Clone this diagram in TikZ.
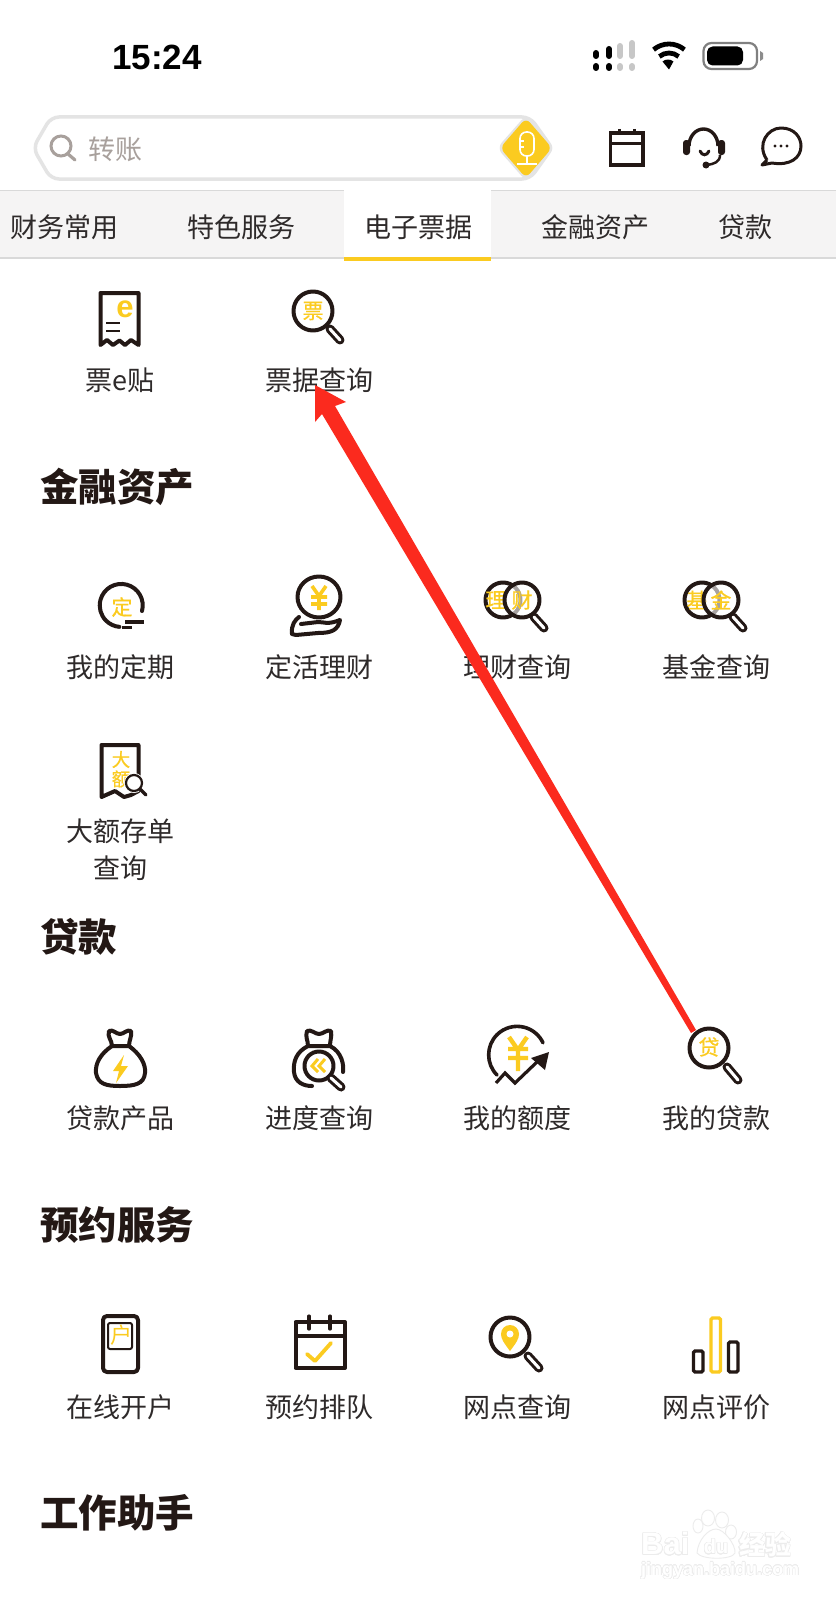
\documentclass[tikz,border=0pt]{standalone}
\usepackage{fontspec}
\usepackage[copies]{contour}
\newfontfamily\cjk{Noto Sans CJK SC}
\newfontfamily\cjkm[FakeBold=0.7]{Noto Sans CJK SC}
\newfontfamily\latn{Liberation Sans}
\definecolor{ink}{HTML}{231815}
\definecolor{lab}{HTML}{2E2A2A}
\definecolor{yel}{HTML}{FBCB20}
\definecolor{redarrow}{HTML}{FB2A1E}
\definecolor{edge}{HTML}{E4E4E4}
\definecolor{tabbg}{HTML}{F5F4F4}
\definecolor{wm}{HTML}{ECECEC}
\definecolor{hint}{HTML}{A8A09C}
\tikzset{
  x=1pt,y=-1pt,
  lbl/.style={inner sep=0pt,text=lab,font=\cjk\fontsize{27}{30}\selectfont},
  tabtxt/.style={inner sep=0pt,text=lab,font=\cjk\fontsize{27}{30}\selectfont},
  head/.style={inner sep=0pt,anchor=west,text=ink,font=\cjk\bfseries\fontsize{38.5}{42}\selectfont},
  gly/.style={inner sep=0pt,text=yel,font=\cjkm\fontsize{#1}{#1}\selectfont},
  gly/.default=21,
  icon/.style={draw=ink,line width=4pt,line join=round,line cap=round},
  yl/.style={draw=yel,line width=3.8pt,line cap=round,line join=round},
  handle/.style={draw=ink,line width=9pt,line cap=round},
  handlein/.style={draw=white,line width=3pt,line cap=round},
}
\newcommand{\magn}[6]{%
  \draw[icon] (#1,#2) circle (#3);
  \draw[handle] (#4,#5) -- ++(#6);
  \draw[handlein] (#4,#5) -- ++(#6);
}
\begin{document}
\begin{tikzpicture}
\useasboundingbox (0,0) rectangle (836,1600);
\fill[white] (0,0) rectangle (836,1600);

% status bar
\node[inner sep=0pt,text=black,font=\latn\bfseries\fontsize{35}{36}\selectfont] (clock) at (157,57) {15:24};
\foreach \cx/\t/\c in {596/53/black,609/49/black,620/46/black!22,632/43/black!22}{
  \draw[\c,line width=6pt,line cap=round] (\cx,\t) -- (\cx,56);
  \draw[\c,line width=6pt,line cap=round] (\cx,66) -- (\cx,68);
}
\draw[black,line width=4.8pt] (669,68) ++(230:24) arc (230:310:24);
\draw[black,line width=4.8pt] (669,68) ++(230:15) arc (230:310:15);
\fill[black] (669,69.5) -- (662.5,61.5) arc (230:310:8.5) -- cycle;
\draw[black!50,line width=2.2pt,rounded corners=8pt] (703.5,43) rectangle (757,69);
\fill[black,rounded corners=5.5pt] (707,46.5) rectangle (743,65.5);
\fill[black!45] (760,51) -- (763,53) -- (763,59) -- (760,61) -- cycle;

% search bar
\draw[edge,line width=3.5pt,fill=white,rounded corners=8pt]
  (33,148) -- (51,117) -- (530,117) -- (552,148) -- (530,179) -- (51,179) -- cycle;
\fill[edge,rounded corners=7pt] (526,115) -- (555,148) -- (526,181) -- (497,148) -- cycle;
\fill[yel,rounded corners=6pt] (526,118) -- (552,148) -- (526,178) -- (500,148) -- cycle;
\draw[white,line width=1.6pt,rounded corners=6.5pt] (520,132) rectangle (534,156);
\draw[white,line width=1.4pt] (519,141) -- (524,141) (519,147) -- (524,147);
\draw[white,line width=1.6pt] (527,156) -- (527,164) (517,164) -- (537,164);
\draw[hint,line width=3pt] (61,146) circle (10);
\draw[hint,line width=3.2pt,line cap=round] (68,154) -- (75,160);
\node[inner sep=0pt,text=hint,font=\cjk\fontsize{27}{30}\selectfont] (srch) at (115,149) {转账};

% top right icons
\draw[ink,line width=3.6pt] (610.5,133) rectangle (643,165);
\draw[ink,line width=3.2pt] (610.5,143.5) -- (643,143.5);
\draw[ink,line width=3pt] (619,129) -- (619,135) (634,129) -- (634,135);
\draw[ink,line width=3.4pt] (689,146) arc (180:360:14.5 and 17);
\fill[ink,rounded corners=3pt] (683,140) rectangle (690,155);
\fill[ink,rounded corners=3pt] (718,140) rectangle (725,155);
\draw[ink,line width=3pt,line cap=round] (700,151) .. controls (702,156) and (707,156) .. (709,151);
\draw[ink,line width=2.5pt] (720,155) .. controls (720,162) and (714,164) .. (707,165);
\fill[ink] (706,165) circle (3.5);
\draw[ink,line width=3pt,line join=round] (767,160)
  .. controls (756,144) and (768,128) .. (781,128)
  .. controls (795,128) and (801,138) .. (801,146)
  .. controls (801,158) and (790,166) .. (772,163) -- (762,165) -- (767,160);
\fill[ink] (775,146) circle (1.6) (781,146) circle (1.6) (787,146) circle (1.6);

% tabs
\fill[tabbg] (0,191) rectangle (836,258);
\draw[black!15,line width=1.2pt] (0,190.5) -- (836,190.5);
\draw[black!15,line width=2pt] (0,258) -- (836,258);
\fill[white] (344,190) rectangle (491,258);
\fill[yel] (344,257) rectangle (491,260.5);
\node[tabtxt] (t1) at (64,227) {财务常用};
\node[tabtxt] (t2) at (241,227) {特色服务};
\node[tabtxt] (t3) at (418.5,227) {电子票据};
\node[tabtxt] (t4) at (595,227) {金融资产};
\node[tabtxt] (t5) at (745,227) {贷款};

% row 1
\draw[icon] (100.5,293) -- (138.5,293) -- (138.5,345) -- (131,340) -- (125,345) -- (119.5,340.5) -- (113,345) -- (107,340) -- (100.5,345) -- cycle;
\node[inner sep=0pt,text=yel,font=\latn\bfseries\fontsize{31}{31}\selectfont] (ee) at (125,309) {e};
\draw[ink,line width=1.6pt] (106,323) -- (120,323) (106,331) -- (120,331);
\node[lbl] (l1) at (120,380) {票e贴};
\magn{313}{311}{19.5}{330}{329}{10,11}
\node[gly=21] (gp) at (313,311) {票};
\node[lbl] (l2) at (319,380) {票据查询};

% 金融资产
\node[head] (h1) at (40,487) {金融资产};
\draw[icon] (142,611) arc (15:-265:21.5);
\draw[ink,line width=3.6pt] (125,622) -- (144,622) (122,627.5) -- (132,627.5);
\node[gly=21] (g1) at (122,607) {定};
\node[lbl] (l3) at (120,667) {我的定期};
\draw[icon] (319,597) ellipse (21.5 and 20.5);
\draw[yel,line width=3.6pt,line cap=butt] (312,586) -- (319,596) -- (326,586) (319,596) -- (319,610) (311,597) -- (327,597) (311,604) -- (327,604);
\draw[icon] (292,634) .. controls (291,625) and (295,620) .. (299,617) (301,624) -- (318,622) .. controls (325,622) and (327,625) .. (340,620) .. controls (338,630) and (332,633) .. (318,633) -- (296,635) -- (292,634);
\node[lbl] (l4) at (319,667) {定活理财};
\draw[icon] (503,600) circle (17.5);
\node[gly=21] (g2) at (496,600) {理};
\draw[handle] (534,617) -- ++(10,11);
\draw[handlein] (534,617) -- ++(10,11);
\draw[icon,fill=white,fill opacity=0.6] (522,600) circle (17.5);
\node[gly=21] (g3) at (522,600) {财};
\node[lbl] (l5) at (517,667) {理财查询};
\draw[icon] (702,600) circle (17.5);
\node[gly=21] (g4) at (697,600) {基};
\draw[handle] (733,617) -- ++(10,11);
\draw[handlein] (733,617) -- ++(10,11);
\draw[icon,fill=white,fill opacity=0.6] (721,600) circle (17.5);
\node[gly=21] (g5) at (721,600) {金};
\node[lbl] (l6) at (716,667) {基金查询};

\draw[icon] (101.5,745) -- (138.5,745) -- (138.5,791) -- (131,795) -- (124,797) -- (115,791) -- (101.5,797) -- cycle;
\node[gly=18.5] (g6) at (121,759.5) {大};
\node[gly=18.5] (g7) at (121,779) {额};
\fill[white] (134,783) circle (10);
\draw[ink,line width=2.2pt] (134,783) circle (8);
\draw[ink,line width=3.4pt,line cap=round] (140,789) -- (146,795);
\node[lbl] (l7) at (120,831) {大额存单};
\node[lbl] (l8) at (120,868) {查询};

% 贷款
\node[head] (h2) at (40,937) {贷款};
\draw[icon] (112,1046) .. controls (100,1054) and (95,1064) .. (96,1073) .. controls (98,1084) and (106,1086) .. (120,1086) .. controls (135,1086) and (144,1084) .. (145,1073) .. controls (146,1064) and (140,1054) .. (129,1046) -- cycle;
\draw[icon] (112,1046) .. controls (112,1040) and (107,1037) .. (109,1031) .. controls (113,1029) and (116,1034) .. (120,1034) .. controls (124,1034) and (127,1029) .. (131,1031) .. controls (132,1037) and (129,1040) .. (129,1046);
\fill[yel] (124,1055) -- (113,1071) -- (119,1071) -- (116,1083) -- (128,1066) -- (121,1066) -- cycle;
\node[lbl] (l9) at (120,1118) {贷款产品};
\draw[icon] (308,1046) .. controls (296,1052) and (293,1062) .. (294,1072) .. controls (295,1082) and (303,1086) .. (312,1086) (330,1046) .. controls (342,1052) and (344,1065) .. (343,1072) (308,1046) -- (330,1046);
\draw[icon] (308,1046) .. controls (308,1040) and (305,1037) .. (307,1031) .. controls (311,1029) and (315,1034) .. (319,1034) .. controls (323,1034) and (327,1029) .. (331,1031) .. controls (332,1037) and (330,1040) .. (330,1046);
\fill[white] (319,1066) circle (17);
\magn{319}{1066}{14.5}{331}{1078}{10,9}
\draw[yel,line width=3pt] (318,1059) -- (312,1066) -- (318,1072) (325,1059) -- (319,1066) -- (325,1072);
\node[lbl] (l10) at (319,1118) {进度查询};
\draw[icon,line width=3.6pt] (497,1075) arc (135:335:28.5);
\draw[yel,line width=4.4pt,line cap=butt] (509,1037) -- (518,1050) -- (527,1037) (518,1050) -- (518,1071) (508,1049) -- (528,1049) (508,1058) -- (528,1058);
\fill[white] (494,1086) -- (505,1069) -- (515,1078) -- (544,1049) -- (552,1064) -- (517,1090) -- (506,1084) -- cycle;
\draw[ink,line width=3.2pt,line join=miter] (496,1083) -- (505,1073) -- (515,1083) -- (538,1061);
\fill[ink] (549,1052) -- (545,1070) -- (531,1058) -- cycle;
\node[lbl] (l11) at (517,1118) {我的额度};
\magn{709}{1048}{19.5}{727}{1067}{11,13}
\node[gly=21] (g8) at (709,1047) {贷};
\node[lbl] (l12) at (716,1118) {我的贷款};

% 预约服务
\node[head] (h3) at (40,1225) {预约服务};
\draw[icon,rounded corners=4pt] (103,1316) rectangle (138,1372);
\draw[ink,line width=2pt,rounded corners=2pt] (108,1323) rectangle (132,1349);
\node[inner sep=0pt,text=yel,font=\cjk\fontsize{22}{22}\selectfont] (g9) at (121,1335) {户};
\node[lbl] (l13) at (120,1407) {在线开户};
\draw[icon,line cap=butt] (295.5,1322) rectangle (345,1368);
\draw[ink,line width=3.2pt] (295.5,1336) -- (345,1336);
\draw[ink,line width=3.2pt,line cap=round] (309,1316) -- (309,1329) (330,1316) -- (330,1329);
\draw[yl] (307,1354) -- (315,1361) -- (331,1343);
\node[lbl] (l14) at (319,1407) {预约排队};
\magn{510}{1337}{19.5}{528}{1356}{11,12}
\fill[yel] (510,1351) .. controls (504,1343) and (501,1339) .. (501,1334) arc (180:360:9) .. controls (519,1339) and (516,1343) .. (510,1351) -- cycle;
\fill[white] (510,1334) circle (3.5);
\node[lbl] (l15) at (517,1407) {网点查询};
\draw[ink,line width=3.4pt,rounded corners=1.5pt] (693.5,1351) rectangle (703,1372);
\draw[yel,line width=3.4pt,rounded corners=1.5pt] (711,1318) rectangle (720.5,1372);
\draw[ink,line width=3.4pt,rounded corners=1.5pt] (728.5,1342) rectangle (738,1372);
\node[lbl] (l16) at (716,1407) {网点评价};

% 工作助手
\node[head] (h4) at (40,1513) {工作助手};

% watermark
\contourlength{0.5pt}
\node[inner sep=0pt,anchor=west,font=\latn\bfseries\fontsize{31}{31}\selectfont] (wm1) at (641,1544) {\contour{wm}{\textcolor{white}{Bai}}};
\draw[wm,line width=0.9pt,fill=white] (708,1518) ellipse (6.5 and 8) (722,1520) ellipse (6.5 and 8) (698,1526) ellipse (5 and 7) (731,1532) ellipse (5.5 and 7);
\draw[wm,line width=0.9pt,fill=white] (697,1553) .. controls (698,1540) and (708,1529) .. (716,1529) .. controls (724,1529) and (736,1545) .. (735,1553) .. controls (732,1560) and (702,1560) .. (697,1553) -- cycle;
\node[inner sep=0pt,font=\latn\bfseries\fontsize{20}{20}\selectfont] (wm2) at (716,1547) {\contour{wm}{\textcolor{white}{du}}};
\node[inner sep=0pt,anchor=west,font=\cjk\bfseries\fontsize{26}{26}\selectfont] (wm3) at (739,1545) {\contour{wm}{\textcolor{white}{经验}}};
\node[inner sep=0pt,anchor=west,font=\latn\bfseries\fontsize{18}{19}\selectfont] (wm4) at (641,1571) {\contour{wm}{\textcolor{white}{jingyan.baidu.com}}};

% red arrow
\fill[redarrow] (315,385) -- (346,402) -- (335,406) -- (696,1030) -- (691,1033) -- (322,414) -- (315,422) -- cycle;
\end{tikzpicture}
\end{document}
